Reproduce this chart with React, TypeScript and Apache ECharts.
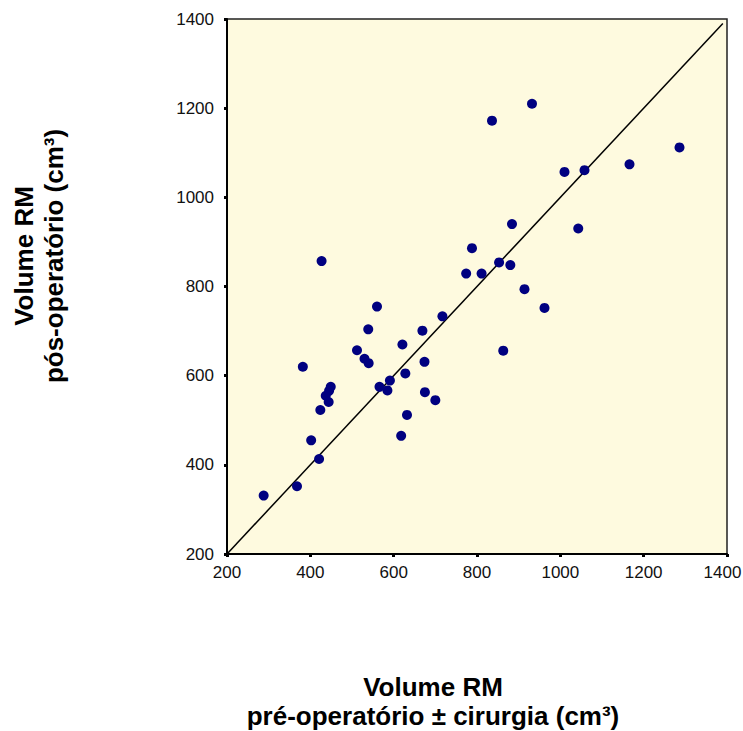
import React, { useEffect, useRef } from "react";
import * as echarts from "echarts";

// Pre-operative volume ± surgery (cm³) vs post-operative volume (cm³)
const preOp: number[] = [
  288, 368, 382, 402, 421, 424, 427, 437, 444, 445, 449, 512, 530, 540, 539, 560,
  566, 585, 591, 618, 621, 628, 632, 669, 674, 675, 700, 717, 774, 788, 811, 836,
  853, 863, 880, 884, 914, 932, 962, 1010, 1043, 1058, 1166, 1286,
];
const postOp: number[] = [
  331, 352, 620, 455, 413, 523, 857, 555, 541, 566, 575, 657, 638, 628, 704, 755,
  575, 567, 589, 465, 670, 605, 512, 701, 631, 563, 545, 733, 829, 886, 829, 1172,
  854, 656, 848, 940, 794, 1210, 752, 1057, 930, 1061, 1074, 1112,
];
const identityLine: number[] = [200, 1390];
const tickValues: number[] = [200, 400, 600, 800, 1000, 1200, 1400];

const xTitle = "Volume RM\npré-operatório ± cirurgia (cm³)";
const yTitle = "Volume RM\npós-operatório (cm³)";

export default function App() {
  const ref = useRef<HTMLDivElement>(null);
  useEffect(() => {
    if (!ref.current) return;
    const chart = echarts.init(ref.current, null, { renderer: "svg" });
    const points = preOp.map((x, i) => [x, postOp[i]]);
    const linePts = identityLine.map((v) => [v, v]);
    const maxTick = tickValues[tickValues.length - 1];
    const axisCommon = {
      type: "value" as const,
      min: tickValues[0],
      max: maxTick,
      interval: 200,
      axisLine: { show: true, onZero: false, lineStyle: { color: "#000", width: 2 } },
      axisTick: { show: true, length: 3, lineStyle: { color: "#000", width: 3 } },
      splitLine: { show: false },
      axisLabel: {
        color: "#111",
        fontFamily: "Liberation Sans, Arial, sans-serif",
        fontSize: 17,
        formatter: (v: number) => String(v),
        hideOverlap: false,
      },
    };
    chart.setOption({
      animation: false,
      backgroundColor: "#ffffff",
      grid: {
        left: 227,
        top: 19,
        width: 500,
        height: 535,
        show: true,
        backgroundColor: "#FEFADF",
        borderColor: "#222",
        borderWidth: 1.5,
        containLabel: false,
        outerBoundsMode: "none",
      },
      xAxis: {
        ...axisCommon,
        axisLabel: {
          ...axisCommon.axisLabel,
          margin: 10,
          formatter: (v: number) => (v === maxTick ? `{last|${v}}` : String(v)),
          rich: {
            last: {
              fontSize: 17,
              fontFamily: "Liberation Sans, Arial, sans-serif",
              color: "#111",
              padding: [0, 9, 0, 0],
            },
          },
        },
      },
      yAxis: { ...axisCommon, axisLabel: { ...axisCommon.axisLabel, margin: 13 } },
      series: [
        {
          type: "line",
          data: linePts,
          showSymbol: false,
          symbol: "none",
          lineStyle: { color: "#000", width: 1.5 },
          silent: true,
          z: 2,
        },
        {
          type: "scatter",
          data: points,
          symbol: "circle",
          symbolSize: 10,
          itemStyle: { color: "#000080", opacity: 1 },
          z: 3,
        },
      ],
      graphic: [
        {
          type: "text",
          x: 433,
          y: 701,
          style: {
            text: xTitle,
            fill: "#000",
            font: "bold 26px 'Liberation Sans', Arial, sans-serif",
            textAlign: "center",
            textVerticalAlign: "middle",
            lineHeight: 29,
          },
        },
        {
          type: "text",
          x: 39,
          y: 256,
          rotation: Math.PI / 2,
          style: {
            text: yTitle,
            fill: "#000",
            font: "bold 26px 'Liberation Sans', Arial, sans-serif",
            textAlign: "center",
            textVerticalAlign: "middle",
            lineHeight: 30,
          },
        },
      ],
    });
    return () => chart.dispose();
  }, []);
  return (
    <div
      ref={ref}
      style={{ position: "absolute", left: 0, top: 0, width: 743, height: 731 }}
    />
  );
}
